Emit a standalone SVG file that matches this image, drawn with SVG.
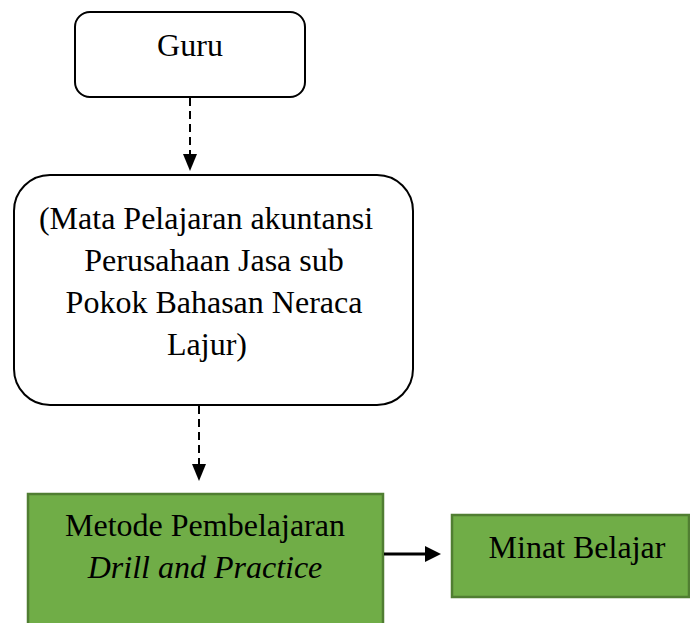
<svg xmlns="http://www.w3.org/2000/svg" width="690" height="623" viewBox="0 0 690 623">
<style>
.box{fill:#fff;stroke:#000;stroke-width:2}
.green{fill:#70AD47;stroke:#507E32;stroke-width:2.5}
.t{font-family:"Liberation Serif","Times New Roman",serif;font-size:32px;fill:#000;text-anchor:middle}
.dash{stroke:#000;stroke-width:2;stroke-dasharray:8,5;fill:none}
.solid{stroke:#000;stroke-width:3;fill:none}
</style>
<g id="guru">
<rect class="box" x="75" y="12" width="230" height="85" rx="15"/>
<text class="t" x="190" y="56">Guru</text>
</g>
<g id="mapel">
<rect class="box" x="14" y="175" width="399" height="230" rx="36"/>
<text class="t" x="206" y="229">(Mata Pelajaran akuntansi</text>
<text class="t" x="214" y="271">Perusahaan Jasa sub</text>
<text class="t" x="214" y="313">Pokok Bahasan Neraca</text>
<text class="t" x="207" y="355">Lajur)</text>
</g>
<g id="metode">
<rect class="green" x="28" y="494" width="355" height="140"/>
<text class="t" x="205" y="536">Metode Pembelajaran</text>
<text class="t" x="205" y="578" font-style="italic">Drill and Practice</text>
</g>
<g id="minat">
<rect class="green" x="452" y="515" width="237" height="82"/>
<text class="t" x="577" y="558">Minat Belajar</text>
</g>
<g id="connectors">
<line class="dash" x1="190" y1="98" x2="190" y2="154"/>
<path d="M183,154 L197,154 L190,171 z" fill="#000"/>
<line class="dash" x1="199" y1="406" x2="199" y2="464"/>
<path d="M192,464 L206,464 L199,481 z" fill="#000"/>
<line class="solid" x1="384" y1="554" x2="426" y2="554"/>
<path d="M425,546 L441,554 L425,562 z" fill="#000"/>
</g>
</svg>
